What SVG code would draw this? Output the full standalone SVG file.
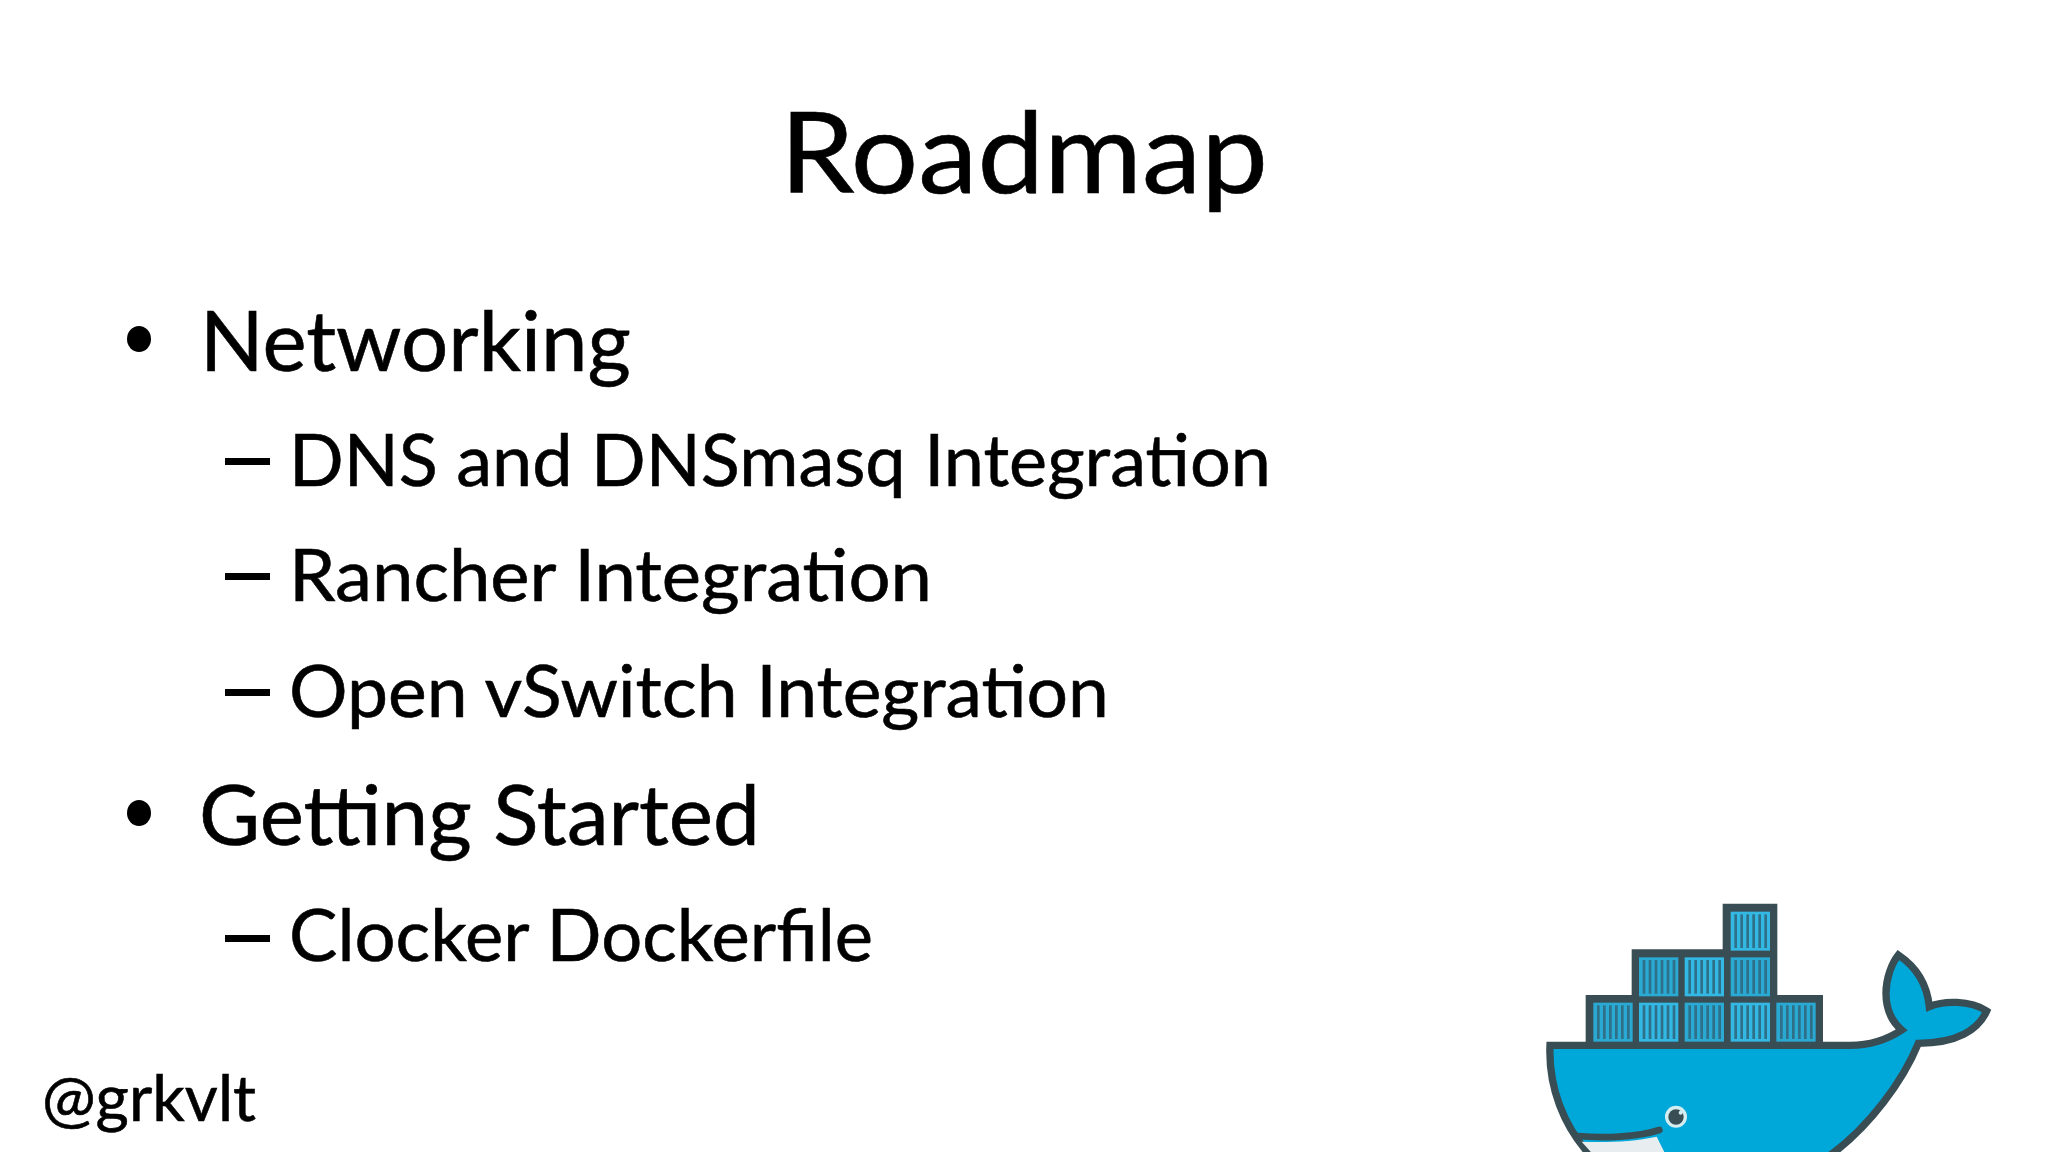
<svg xmlns="http://www.w3.org/2000/svg" xmlns:xlink="http://www.w3.org/1999/xlink" width="2048" height="1152" viewBox="0 0 2048 1152">
<style>
text{font-family:"Lato","Liberation Sans",sans-serif;fill:#000;stroke:#000;stroke-width:0.6px}
.l1{font-size:84px}
.l2{font-size:72px}
.bullet{fill:#000}
.dash{fill:#000}
.ln{stroke:#394d54;stroke-width:22;stroke-linejoin:miter;stroke-linecap:round}
</style>
<defs>
<g id="box">
<rect x="0" y="0" width="118" height="117"/>
<g fill="#2f6f88">
<rect x="11" y="8" width="8" height="101"/><rect x="29" y="8" width="8" height="101"/><rect x="47" y="8" width="8" height="101"/><rect x="65" y="8" width="8" height="101"/><rect x="83" y="8" width="8" height="101"/><rect x="101" y="8" width="8" height="101"/>
</g>
</g>
<clipPath id="page"><rect x="0" y="0" width="1500" height="816"/></clipPath>
</defs>
<rect width="2048" height="1152" fill="#fff"/>
<g id="title"><text x="780" y="193" font-size="113" textLength="488" lengthAdjust="spacingAndGlyphs">Roadmap</text></g>
<g id="bullets">
<ellipse class="bullet" cx="139" cy="339" rx="12" ry="13"/>
<text class="l1" x="200" y="371" textLength="431" lengthAdjust="spacingAndGlyphs">Networking</text>
<rect class="dash" x="225" y="458" width="45" height="7"/>
<text class="l2" x="289" y="486" textLength="982" lengthAdjust="spacingAndGlyphs">DNS and DNSmasq Integration</text>
<rect class="dash" x="225" y="573" width="45" height="7"/>
<text class="l2" x="289" y="601" textLength="643" lengthAdjust="spacingAndGlyphs">Rancher Integration</text>
<rect class="dash" x="225" y="689" width="45" height="7"/>
<text class="l2" x="289" y="717" textLength="820" lengthAdjust="spacingAndGlyphs">Open vSwitch Integration</text>
<ellipse class="bullet" cx="139" cy="813" rx="12" ry="13"/>
<text class="l1" x="199" y="845" textLength="561" lengthAdjust="spacingAndGlyphs">Getting Started</text>
<rect class="dash" x="225" y="935" width="45" height="7"/>
<text class="l2" x="289" y="961" textLength="584" lengthAdjust="spacingAndGlyphs">Clocker Dockerfile</text>
</g>
<g id="handle"><text x="42" y="1121" font-size="64" textLength="214" lengthAdjust="spacingAndGlyphs">@grkvlt</text></g>
<g id="whale" transform="translate(1520 880) scale(0.33333)">
<g clip-path="url(#page)">
<path d="M90 496H990C1050 496 1100 480 1145 450C1110 420 1098 380 1098 340C1098 295 1115 250 1135 225C1180 255 1220 300 1228 380C1270 362 1350 360 1400 393C1375 450 1310 490 1195 490C1150 600 1050 740 925 830L215 830C130 740 85 620 90 496Z" style="fill:#00a8d9" class="ln"/>
<path d="M185 785C260 788 340 785 410 770L440 830H225Z" fill="#e8eef0"/>
<path d="M172 768C250 775 350 772 418 750" class="ln" style="stroke-width:20;fill:none"/>
<path d="M197 345H335V208H608V71H772V345H909V496H197Z" fill="#394d54"/>
<g fill="#2aa9d3">
<use xlink:href="#box" href="#box" x="220" y="368"/>
<use xlink:href="#box" href="#box" x="494" y="368"/>
<use xlink:href="#box" href="#box" x="769" y="368"/>
<use xlink:href="#box" href="#box" x="357" y="232"/>
<use xlink:href="#box" href="#box" x="632" y="232"/>
</g>
<g fill="#33b8e4">
<use xlink:href="#box" href="#box" x="357" y="368"/>
<use xlink:href="#box" href="#box" x="632" y="368"/>
<use xlink:href="#box" href="#box" x="494" y="232"/>
<use xlink:href="#box" href="#box" x="632" y="95"/>
</g>
<circle cx="468" cy="710" r="33" fill="#d4edf1"/>
<circle cx="468" cy="711" r="23" fill="#394d54"/>
<circle cx="482" cy="698" r="6" fill="#d4edf1"/>
</g>
</g>
</svg>
